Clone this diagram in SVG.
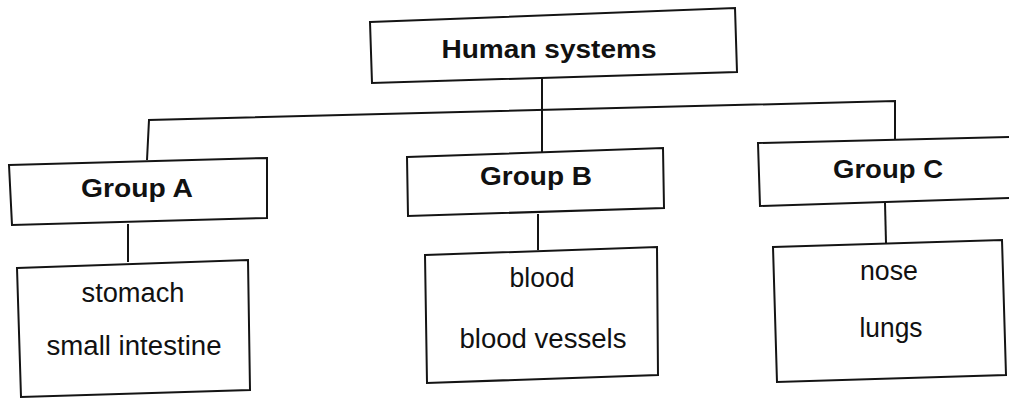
<svg xmlns="http://www.w3.org/2000/svg" width="1009" height="407" viewBox="0 0 1009 407">
<style>
.box{fill:#fff;stroke:#141414;stroke-width:2;stroke-linejoin:miter}
.con{fill:none;stroke:#141414;stroke-width:2}
.b{font-family:"Liberation Sans",Arial,sans-serif;font-weight:bold;font-size:26px;fill:#111;text-anchor:middle}
.r{font-family:"Liberation Sans",Arial,sans-serif;font-size:27px;fill:#111;text-anchor:middle}
</style>
<rect width="1009" height="407" fill="#fff"/>
<g id="connectors">
<path class="con" d="M542 78 L542 152"/>
<path class="con" d="M147 160 L149 120 L895 101 L895 139"/>
<path class="con" d="M128 224 L128 262"/>
<path class="con" d="M538 214 L538 250"/>
<path class="con" d="M885 203 L886 243"/>
</g>
<g id="human-systems">
<polygon class="box" points="370,22 735,8 737,72 372,83"/>
<text class="b" x="549" y="58" textLength="215" lengthAdjust="spacingAndGlyphs">Human systems</text>
</g>
<g id="group-a">
<polygon class="box" points="9,165 267,158 267,218 12,225"/>
<text class="b" x="137" y="197" textLength="112" lengthAdjust="spacingAndGlyphs">Group A</text>
</g>
<g id="group-b">
<polygon class="box" points="407,157 663,148 664,208 408,216"/>
<text class="b" x="536" y="185" textLength="112" lengthAdjust="spacingAndGlyphs">Group B</text>
</g>
<g id="group-c">
<polygon class="box" points="758,143 1012,137 1012,198 760,206"/>
<text class="b" x="888" y="178" textLength="110" lengthAdjust="spacingAndGlyphs">Group C</text>
</g>
<g id="group-a-items">
<polygon class="box" points="17,268 248,260 250,390 21,397"/>
<text class="r" x="133" y="302" textLength="103" lengthAdjust="spacingAndGlyphs">stomach</text>
<text class="r" x="134" y="355" textLength="175" lengthAdjust="spacingAndGlyphs">small intestine</text>
</g>
<g id="group-b-items">
<polygon class="box" points="425,255 657,247 658,375 427,383"/>
<text class="r" x="542" y="287" textLength="65" lengthAdjust="spacingAndGlyphs">blood</text>
<text class="r" x="543" y="348" textLength="167" lengthAdjust="spacingAndGlyphs">blood vessels</text>
</g>
<g id="group-c-items">
<polygon class="box" points="773,247 1002,240 1006,375 777,382"/>
<text class="r" x="889" y="280" textLength="58" lengthAdjust="spacingAndGlyphs">nose</text>
<text class="r" x="891" y="337" textLength="63" lengthAdjust="spacingAndGlyphs">lungs</text>
</g>
</svg>
